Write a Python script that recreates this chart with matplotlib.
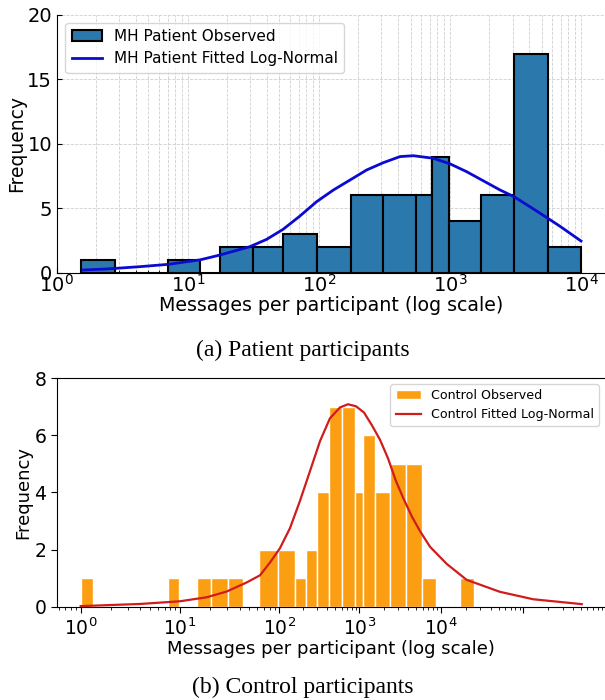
import numpy as np
import matplotlib
matplotlib.use("Agg")
import matplotlib.pyplot as plt
from matplotlib.ticker import FixedLocator, FixedFormatter

# --- patient panel (a) ---
pat_edges = [1.54, 2.77, 7.03, 12.4, 17.5, 31.2, 53.1, 96.5, 175, 306, 547, 725, 982, 1725, 3080, 5570, 10000]
pat_counts = [1, 0, 1, 0, 2, 2, 3, 2, 6, 6, 6, 9, 4, 6, 17, 2]
pat_fit_x = [1.58, 2.4, 4.31, 7.08, 12.4, 17.5, 29.7, 39.9, 53.3, 71.6, 95.9, 129, 173, 231, 310,
             415, 525, 746, 1000, 1340, 2410, 3080, 4330, 5550, 6920, 10000]
pat_fit_y = [0.21, 0.29, 0.47, 0.65, 1.0, 1.37, 2.02, 2.59, 3.37, 4.4, 5.51, 6.42, 7.2, 7.97, 8.54,
             9.01, 9.08, 8.88, 8.45, 7.84, 6.42, 5.9, 4.95, 4.24, 3.6, 2.46]

# --- control panel (b) ---
ctl_edges = [1.0, 1.34, 7.5, 9.8, 14.9, 20.7, 30.4, 43.1, 62.8, 97.5, 155, 217, 298, 416, 612,
             884, 1125, 1567, 2407, 3729, 5860, 8690, 16790, 25000]
ctl_counts = [1, 0, 1, 0, 1, 1, 1, 0, 2, 2, 1, 2, 4, 7, 7, 4, 6, 4, 5, 5, 1, 0, 1]
ctl_fit_x = [1.0, 3.95, 10.0, 18.6, 29.5, 47.0, 64.0, 80.7, 102, 136, 181, 242, 323, 430, 574,
             722, 909, 1142, 1430, 1790, 2244, 2810, 3520, 4415, 5530, 7330, 11720, 20500,
             52100, 132000, 513000]
ctl_fit_y = [0.02, 0.095, 0.19, 0.33, 0.53, 0.85, 1.1, 1.55, 2.05, 2.75, 3.7, 4.75, 5.8, 6.6, 6.98,
             7.09, 7.02, 6.8, 6.35, 5.85, 5.2, 4.4, 3.75, 3.15, 2.65, 2.1, 1.5, 0.94,
             0.52, 0.26, 0.09]

fig = plt.figure(figsize=(6.05, 7.0), dpi=100)

# ---------------- (a) ----------------
ax1 = fig.add_axes([0.094, 0.6104, 0.906, 0.3682])
ax1.hist(pat_edges[:-1], bins=pat_edges, weights=pat_counts, color='#2b78ad',
         edgecolor='black', linewidth=1.5, label='MH Patient Observed', zorder=2)
ax1.plot(pat_fit_x, pat_fit_y, color='#0a0ad0', lw=2, label='MH Patient Fitted Log-Normal', zorder=3)
ax1.set_xscale('log')
ax1.set_xlim(1, 10 ** 4.183)
ax1.set_ylim(0, 20)
ax1.set_yticks([0, 5, 10, 15, 20])
ax1.grid(True, which='both', axis='x', ls='--', lw=0.6, color='#cfcfcf', zorder=0)
ax1.grid(True, which='major', axis='y', ls='--', lw=0.6, color='#cfcfcf', zorder=0)
ax1.set_axisbelow(True)
for s in ['top', 'right']:
    ax1.spines[s].set_visible(False)
ax1.tick_params(which='both', direction='in', labelsize=14)
ax1.tick_params(axis='x', pad=1)
ax1.set_xlabel('Messages per participant (log scale)', fontsize=13.7, labelpad=0)
ax1.set_ylabel('Frequency', fontsize=13.5)
ax1.yaxis.set_label_coords(-0.0566, 0.5)
ax1.legend(loc='upper left', fontsize=11, bbox_to_anchor=(0.0157, 0.97), borderaxespad=0)

# ---------------- (b) ----------------
# the printed axis is not evenly spaced per decade, so map decades onto it piecewise
dec_log = [-1, 0, 1, 2, 3, 4, 5, 6]
dec_pos = [-18.6, 80.7, 180, 279.3, 359.3, 441, 523.3, 605.6]


def fwd(x):
    return np.interp(np.log10(np.clip(x, 1e-12, None)), dec_log, dec_pos)


def inv(p):
    return 10 ** np.interp(p, dec_pos, dec_log)


ax2 = fig.add_axes([0.0937, 0.1333, 0.9063, 0.3263])
ax2.set_xscale('function', functions=(fwd, inv))
ax2.hist(ctl_edges[:-1], bins=ctl_edges, weights=ctl_counts, color='#fc9e12',
         edgecolor='white', linewidth=1.0, label='Control Observed', zorder=2)
ax2.plot(ctl_fit_x, ctl_fit_y, color='#d01c1c', lw=1.6, label='Control Fitted Log-Normal', zorder=3)
ax2.set_xlim(inv(56.7), inv(605))
ax2.set_ylim(0, 8)
ax2.set_yticks([0, 2, 4, 6, 8])
majors = [1, 10, 100, 1e3, 1e4, 1e5]
ax2.xaxis.set_major_locator(FixedLocator(majors))
ax2.xaxis.set_major_formatter(FixedFormatter([r'$10^{0}$', r'$10^{1}$', r'$10^{2}$',
                                              r'$10^{3}$', r'$10^{4}$', '']))
minors = [k * 10.0 ** d for d in range(-1, 6) for k in range(2, 10)]
ax2.xaxis.set_minor_locator(FixedLocator(minors))
ax2.xaxis.set_minor_formatter(FixedFormatter([''] * len(minors)))
ax2.spines['right'].set_visible(False)
ax2.tick_params(which='major', labelsize=13.5, length=4)
ax2.tick_params(which='minor', length=2)
ax2.set_xlabel('Messages per participant (log scale)', fontsize=13, labelpad=1)
ax2.set_ylabel('Frequency', fontsize=13)
ax2.yaxis.set_label_coords(-0.045, 0.5)
ax2.legend(loc='upper right', fontsize=9.1, bbox_to_anchor=(0.989, 0.975), borderaxespad=0)

# captions
fig.text(0.5, 1 - 350 / 700, '(a) Patient participants', ha='center', va='center',
         family='Liberation Serif', fontsize=17)
fig.text(0.5, 1 - 687 / 700, '(b) Control participants', ha='center', va='center',
         family='Liberation Serif', fontsize=17)

fig.savefig('out.png', dpi=100)
